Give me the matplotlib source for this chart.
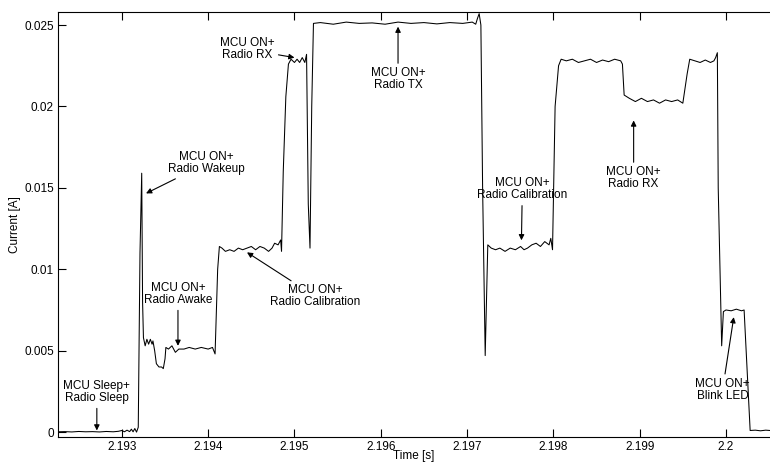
import matplotlib.pyplot as plt

plt.rcParams['font.family'] = ['Liberation Sans', 'DejaVu Sans']

# ----------------------------------------------------------------------------------------------------------------------
# Current trace (time in s, current in A)
t_s = [
    2.19226, 2.19234, 2.19242, 2.19250, 2.19258, 2.19266, 2.19274, 2.19282, 2.19290, 2.19296,
    2.19300, 2.19303, 2.19306, 2.19309, 2.19311, 2.19313, 2.19315, 2.19317, 2.19319,
    2.19321, 2.19323, 2.19324, 2.19325, 2.19327, 2.19329, 2.19331, 2.19333, 2.19335, 2.19336,
    2.19338, 2.19340, 2.19343, 2.19346, 2.19348, 2.19350, 2.19351, 2.19354, 2.19358, 2.19362,
    2.19366, 2.19372, 2.19378, 2.19385, 2.19392, 2.19400, 2.19405, 2.19408, 2.19411, 2.19413,
    2.19416, 2.19420, 2.19425, 2.19430, 2.19435, 2.19440, 2.19445, 2.19450, 2.19455, 2.19460,
    2.19465, 2.19470, 2.19474, 2.19477, 2.19481, 2.19484, 2.19485, 2.19487, 2.19490, 2.19493,
    2.19496, 2.19500, 2.19503, 2.19506, 2.19509, 2.19512, 2.19514, 2.19516, 2.19518, 2.19520,
    2.19522, 2.19530, 2.19545, 2.19560, 2.19575, 2.19590, 2.19605, 2.19620, 2.19635, 2.19650,
    2.19665, 2.19680, 2.19695, 2.19706, 2.19710, 2.19712, 2.19714, 2.19716, 2.19718, 2.19721,
    2.19724, 2.19728, 2.19733, 2.19738, 2.19744, 2.19750, 2.19756, 2.19762, 2.19766, 2.19770,
    2.19775, 2.19780, 2.19785, 2.19790, 2.19795, 2.19797, 2.19799, 2.19802, 2.19806, 2.19809,
    2.19815, 2.19822, 2.19829, 2.19836, 2.19843, 2.19850, 2.19857, 2.19864, 2.19871, 2.19878,
    2.19880, 2.19882, 2.19888, 2.19895, 2.19902, 2.19909, 2.19916, 2.19923, 2.19930, 2.19937,
    2.19944, 2.19950, 2.19955, 2.19958, 2.19964, 2.19970, 2.19976, 2.19982, 2.19986, 2.19988,
    2.19990, 2.19991, 2.19995, 2.19997, 2.20000, 2.20006, 2.20012, 2.20018, 2.20021, 2.20028,
    2.20034, 2.20040, 2.20046, 2.20051,
]
i_a = [
    0.00002, 0.00003, 0.00001, 0.00004, 0.00002, 0.00003, 0.00001, 0.00004, 0.00002, 0.00005,
    0.00010, 0.00002, 0.00012, 0.00003, 0.00018, 0.00002, 0.00022, 0.00000, 0.00030,
    0.01100, 0.01590, 0.00800, 0.00580, 0.00530, 0.00570, 0.00540, 0.00570, 0.00540, 0.00560,
    0.00500, 0.00420, 0.00400, 0.00400, 0.00390, 0.00450, 0.00520, 0.00510, 0.00530, 0.00490,
    0.00510, 0.00510, 0.00520, 0.00510, 0.00520, 0.00510, 0.00520, 0.00480, 0.01000, 0.01140,
    0.01130, 0.01110, 0.01120, 0.01110, 0.01130, 0.01120, 0.01130, 0.01140, 0.01120, 0.01140,
    0.01130, 0.01110, 0.01130, 0.01160, 0.01150, 0.01180, 0.01110, 0.01600, 0.02060, 0.02260,
    0.02290, 0.02270, 0.02290, 0.02270, 0.02300, 0.02270, 0.02320, 0.01400, 0.01130, 0.02000,
    0.02510, 0.02515, 0.02505, 0.02518, 0.02510, 0.02513, 0.02505, 0.02518, 0.02510, 0.02515,
    0.02507, 0.02515, 0.02510, 0.02518, 0.02505, 0.02540, 0.02570, 0.02500, 0.01500, 0.00470,
    0.01150, 0.01130, 0.01120, 0.01130, 0.01110, 0.01130, 0.01120, 0.01140, 0.01120, 0.01130,
    0.01150, 0.01160, 0.01140, 0.01170, 0.01150, 0.01190, 0.01120, 0.02000, 0.02250, 0.02290,
    0.02280, 0.02290, 0.02270, 0.02280, 0.02290, 0.02270, 0.02285, 0.02275, 0.02290, 0.02280,
    0.02260, 0.02070, 0.02050, 0.02030, 0.02050, 0.02030, 0.02040, 0.02020, 0.02040, 0.02030,
    0.02040, 0.02020, 0.02200, 0.02290, 0.02280, 0.02270, 0.02285, 0.02270, 0.02280, 0.02300,
    0.02330, 0.01500, 0.00530, 0.00740, 0.00750, 0.00745, 0.00755, 0.00745, 0.00750, 0.00010,
    0.00012, 0.00008, 0.00012, 0.00010,
]

x_ticks = [2.193, 2.194, 2.195, 2.196, 2.197, 2.198, 2.199, 2.2]
x_labels = ["2.193", "2.194", "2.195", "2.196", "2.197", "2.198", "2.199", "2.2"]
y_ticks = [0, 0.005, 0.01, 0.015, 0.02, 0.025]
y_labels = ["0", "0.005", "0.01", "0.015", "0.02", "0.025"]

# (label, arrow target t, arrow target i, text t, text i)
notes = [
    ("MCU Sleep+\nRadio Sleep", 2.19271, 0.0001, 2.19271, 0.00245),
    ("MCU ON+\nRadio Wakeup", 2.19328, 0.01466, 2.19398, 0.0165),
    ("MCU ON+\nRadio Awake", 2.19365, 0.0053, 2.19365, 0.00847),
    ("MCU ON+\nRadio Calibration", 2.19445, 0.01104, 2.19524, 0.00834),
    ("MCU ON+\nRadio RX", 2.19500, 0.0230, 2.19445, 0.0235),
    ("MCU ON+\nRadio TX", 2.19620, 0.02490, 2.19620, 0.02166),
    ("MCU ON+\nRadio Calibration", 2.19763, 0.01178, 2.19764, 0.0149),
    ("MCU ON+\nRadio RX", 2.19893, 0.01914, 2.19893, 0.01558),
    ("MCU ON+\nBlink LED", 2.20009, 0.00706, 2.19996, 0.00258),
]
# ----------------------------------------------------------------------------------------------------------------------

fig = plt.figure(figsize=(7.7, 4.63), dpi=100)
ax = fig.add_axes([58 / 770, 1 - 437 / 463, 1 - 58 / 770, (437 - 12) / 463])

ax.plot(t_s, i_a, color="black", lw=0.75)

for label, xt, yt, xx, yy in notes:
    ax.annotate(label, xy=(xt, yt), xytext=(xx, yy), ha="center", va="center",
                fontsize=8.5, linespacing=1.0,
                arrowprops=dict(arrowstyle="-|>", color="black", lw=0.8,
                                mutation_scale=8, shrinkA=1, shrinkB=0))

ax.set_xlim(2.19226, 2.20051)
ax.set_ylim(-0.0003, 0.0258)
ax.set_xticks(x_ticks, x_labels, fontsize=8.5)
ax.set_yticks(y_ticks, y_labels, fontsize=8.5)
ax.tick_params(direction="in", length=6, top=True, pad=3)
ax.spines["right"].set_visible(False)
ax.set_xlabel("Time [s]", fontsize=8.5, labelpad=-2)
ax.set_ylabel("Current [A]", fontsize=8.5, labelpad=2)

fig.savefig("out.png", dpi=100)
